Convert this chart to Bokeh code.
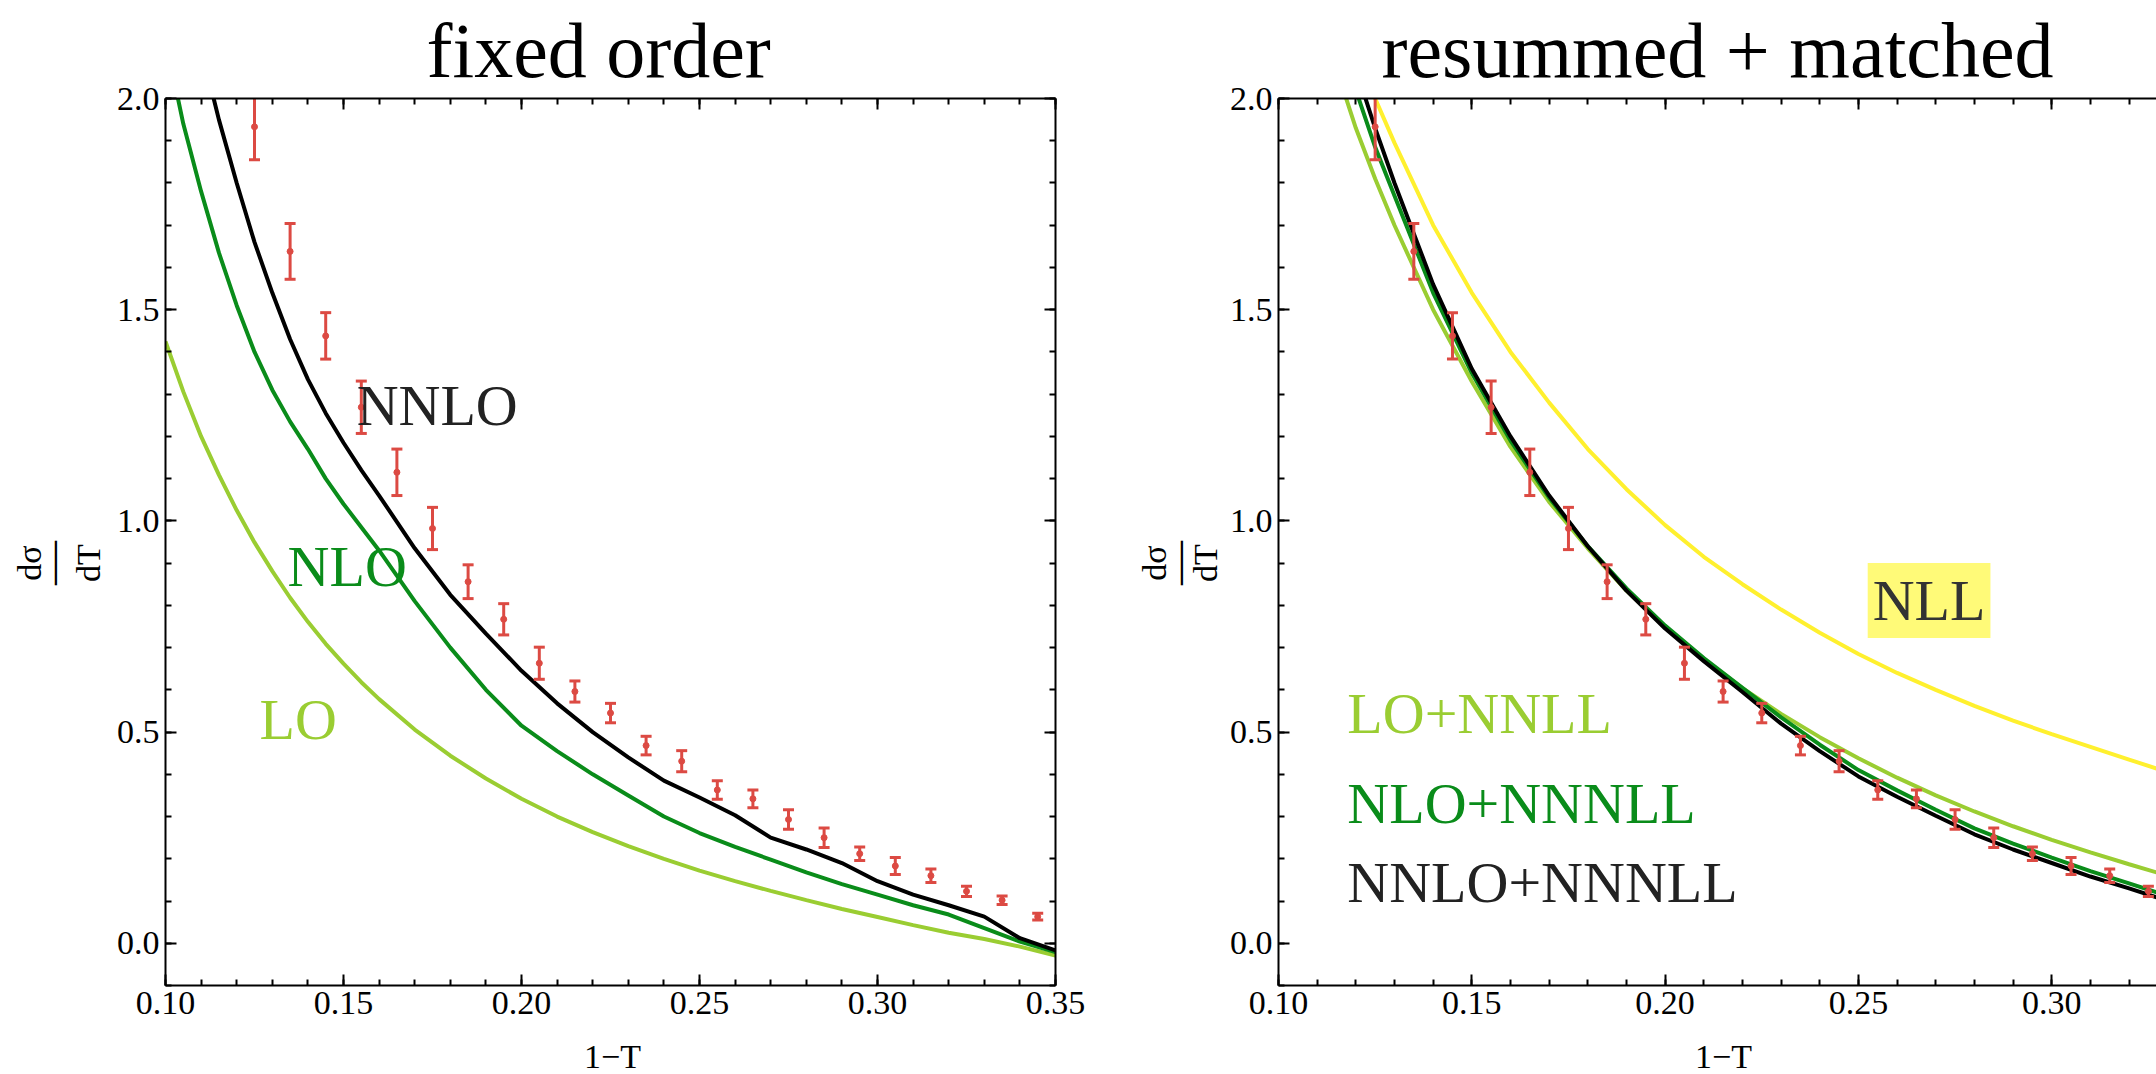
import math
from bokeh.plotting import figure
from bokeh.layouts import row, column
from bokeh.models import (Range1d, FixedTicker, LinearAxis, Label, NumeralTickFormatter,
                          CustomJSTickFormatter)
from bokeh.embed import file_html
from bokeh.resources import INLINE

# ---------------- data ----------------
x_fo = [0.100, 0.105, 0.110, 0.115, 0.120, 0.125, 0.130, 0.135, 0.140, 0.145, 0.150, 0.155,
        0.160, 0.170, 0.180, 0.190, 0.200, 0.210, 0.220, 0.230, 0.240, 0.250, 0.260, 0.270,
        0.280, 0.290, 0.300, 0.310, 0.320, 0.330, 0.340, 0.350]
lo = [1.425, 1.306, 1.200, 1.109, 1.025, 0.949, 0.881, 0.818, 0.761, 0.709, 0.662, 0.618,
      0.578, 0.506, 0.444, 0.390, 0.342, 0.300, 0.263, 0.230, 0.200, 0.172, 0.147, 0.124,
      0.102, 0.081, 0.062, 0.043, 0.025, 0.010, -0.008, -0.029]
nlo = [2.14, 1.94, 1.78, 1.635, 1.51, 1.40, 1.31, 1.235, 1.17, 1.10, 1.04, 0.985,
       0.93, 0.81, 0.70, 0.60, 0.515, 0.455, 0.40, 0.35, 0.30, 0.261, 0.228, 0.198,
       0.168, 0.140, 0.115, 0.090, 0.068, 0.036, 0.004, -0.021]
nnlo = [2.55, 2.32, 2.12, 1.95, 1.80, 1.66, 1.54, 1.43, 1.335, 1.255, 1.185, 1.12,
        1.06, 0.935, 0.825, 0.733, 0.645, 0.568, 0.50, 0.44, 0.385, 0.345, 0.303, 0.25,
        0.222, 0.19, 0.147, 0.115, 0.090, 0.063, 0.012, -0.017]

x_rs = [0.110, 0.115, 0.120, 0.125, 0.13, 0.14, 0.15, 0.16, 0.17, 0.18, 0.19, 0.20, 0.21,
        0.22, 0.23, 0.24, 0.25, 0.26, 0.27, 0.28, 0.29, 0.30, 0.31, 0.32, 0.33, 0.34, 0.35]
lo_nnll = [2.25, 2.07, 1.93, 1.81, 1.70, 1.50, 1.33, 1.175, 1.045, 0.935, 0.835, 0.748, 0.672,
           0.604, 0.543, 0.488, 0.438, 0.392, 0.350, 0.312, 0.277, 0.245, 0.215, 0.187, 0.160,
           0.135, 0.112]
nlo_nnnll = [2.30, 2.15, 2.02, 1.885, 1.77, 1.54, 1.35, 1.19, 1.055, 0.94, 0.84, 0.752, 0.675,
             0.605, 0.535, 0.47, 0.41, 0.362, 0.316, 0.272, 0.236, 0.203, 0.171, 0.142, 0.112,
             0.085, 0.06]
nnlo_nnnll = [2.35, 2.20, 2.07, 1.93, 1.80, 1.56, 1.36, 1.20, 1.06, 0.94, 0.835, 0.745, 0.668,
              0.595, 0.52, 0.455, 0.395, 0.347, 0.302, 0.258, 0.222, 0.19, 0.158, 0.13, 0.10,
              0.075, 0.05]
nll = [2.40, 2.25, 2.12, 2.00, 1.895, 1.70, 1.54, 1.40, 1.28, 1.17, 1.075, 0.99, 0.915,
       0.85, 0.79, 0.735, 0.685, 0.64, 0.60, 0.562, 0.527, 0.495, 0.465, 0.435, 0.405,
       0.38, 0.355]

x_data = [0.125, 0.135, 0.145, 0.155, 0.165, 0.175, 0.185, 0.195, 0.205, 0.215, 0.225, 0.235,
          0.245, 0.255, 0.265, 0.275, 0.285, 0.295, 0.305, 0.315, 0.325, 0.335, 0.345]
y_data = [1.933, 1.638, 1.438, 1.269, 1.115, 0.982, 0.856, 0.767, 0.663, 0.596, 0.545, 0.468,
          0.431, 0.363, 0.342, 0.293, 0.250, 0.212, 0.183, 0.160, 0.123, 0.102, 0.063]
err_data = [0.078, 0.066, 0.055, 0.062, 0.055, 0.050, 0.040, 0.037, 0.038, 0.025, 0.023, 0.022,
            0.025, 0.022, 0.021, 0.023, 0.023, 0.016, 0.020, 0.016, 0.012, 0.010, 0.008]

x_ticks = [0.10, 0.15, 0.20, 0.25, 0.30, 0.35]
x_tick_labels = ["0.10", "0.15", "0.20", "0.25", "0.30", "0.35"]
x_minor = [round(0.10 + 0.01 * i, 2) for i in range(26)]
y_ticks = [0.0, 0.5, 1.0, 1.5, 2.0]
y_tick_labels = ["0.0", "0.5", "1.0", "1.5", "2.0"]
y_minor = [round(-0.1 + 0.1 * i, 1) for i in range(22)]

titles = ["fixed order", "resummed + matched"]
x_label = "1\u2212T"

# ---------------- style ----------------
FONT = "Liberation Serif"
C_LO = "#9ACD32"
C_NLO = "#0A8C1A"
C_NNLO = "#000000"
C_NLL = "#FFF02E"
C_RED = "#DC4A43"
BASE = 0.052  # baseline correction for 58px labels (data units)
LW = 4


def style_axis(ax, ticks, minor, labels, show, fmt):
    ax.ticker = FixedTicker(ticks=ticks, minor_ticks=minor)
    ax.axis_line_color = "black"
    ax.axis_line_width = 2
    ax.major_tick_line_color = "black"
    ax.minor_tick_line_color = "black"
    ax.major_tick_line_width = 2
    ax.minor_tick_line_width = 2
    ax.major_tick_in = 11
    ax.major_tick_out = 0
    ax.minor_tick_in = 6
    ax.minor_tick_out = 0
    ax.major_label_text_font = FONT
    ax.major_label_text_color = "black"
    if show:
        ax.formatter = NumeralTickFormatter(format=fmt)
        ax.major_label_overrides = {t: l for t, l in zip(ticks, labels)}
        ax.major_label_text_font_size = "34px"
        ax.major_label_standoff = 6
    else:
        ax.formatter = CustomJSTickFormatter(code="return ''")
        ax.major_label_text_font_size = "0px"
        ax.major_label_standoff = 0


def make_fig(width, height, left, right, top, bottom, xend, with_right, title, t_align, t_off):
    p = figure(width=width, height=height, output_backend="svg", toolbar_location=None,
               x_range=Range1d(0.10, xend), y_range=Range1d(-0.1, 2.0),
               min_border_left=left, min_border_right=right,
               min_border_top=top, min_border_bottom=bottom, title=title)
    p.title.text_font = FONT
    p.title.text_font_size = "78px"
    p.title.text_font_style = "normal"
    p.title.text_color = "black"
    p.title.align = t_align
    p.title.offset = t_off
    p.title.vertical_align = "top"
    p.title.standoff = 6
    p.background_fill_color = "white"
    p.border_fill_color = "white"
    p.outline_line_color = None
    p.xgrid.visible = False
    p.ygrid.visible = False
    style_axis(p.xaxis[0], x_ticks, x_minor, x_tick_labels, True, "0.00")
    style_axis(p.yaxis[0], y_ticks, y_minor, y_tick_labels, True, "0.0")
    ax_top = LinearAxis()
    style_axis(ax_top, x_ticks, x_minor, x_tick_labels, False, "0.00")
    p.add_layout(ax_top, "above")
    if with_right:
        ax_r = LinearAxis()
        style_axis(ax_r, y_ticks, y_minor, y_tick_labels, False, "0.0")
        p.add_layout(ax_r, "right")
    return p


def aux(width, height):
    f = figure(width=width, height=height, output_backend="svg", toolbar_location=None,
               x_range=Range1d(0, width), y_range=Range1d(height, 0),
               x_axis_type=None, y_axis_type=None, min_border=0)
    f.outline_line_color = None
    f.background_fill_color = "white"
    f.border_fill_color = "white"
    return f


def label(p, x, y, text, size, color, align="left", angle=0.0, baseline="alphabetic", bg=None):
    kw = {}
    if bg is not None:
        kw = dict(background_fill_color=bg, padding=5)
    p.add_layout(Label(x=x, y=y, text=text, text_font=FONT, text_font_size=size,
                       text_color=color, text_align=align, text_baseline=baseline,
                       angle=angle, **kw))


def error_bars(p):
    lower = [y - e for y, e in zip(y_data, err_data)]
    upper = [y + e for y, e in zip(y_data, err_data)]
    p.segment(x0=x_data, y0=lower, x1=x_data, y1=upper, line_color=C_RED, line_width=3)
    p.scatter(x=x_data, y=lower, marker="dash", size=11, line_color=C_RED, line_width=3)
    p.scatter(x=x_data, y=upper, marker="dash", size=11, line_color=C_RED, line_width=3)
    p.scatter(x=x_data, y=y_data, marker="circle", size=6, line_color=C_RED, fill_color=C_RED)


def ylabel(f, xs, xb, xd, yc):
    label(f, xs, yc, "d\u03c3", "34px", "black", "center", math.pi / 2, "middle")
    label(f, xb, yc, "\u2014", "44px", "black", "center", math.pi / 2, "middle")
    label(f, xd, yc, "dT", "34px", "black", "center", math.pi / 2, "middle")


BOT = 43
MAIN_H = 1074 - BOT

# ---------------- x labels ----------------
bl = aux(1100, BOT)
label(bl, 612, 6, x_label, "34px", "black", "center", baseline="top")
br = aux(1056, BOT)
label(br, 623, 6, x_label, "34px", "black", "center", baseline="top")

# ---------------- y labels ----------------
yl = aux(110, MAIN_H)
ylabel(yl, 28.5, 51, 88, 540)
yr = aux(126, MAIN_H)
ylabel(yr, 53.5, 77, 105, 540)

# ---------------- left panel ----------------
pl = make_fig(990, MAIN_H, 55, 45, 95, 1074 - BOT - 985, 0.35, True, titles[0], "left", 261)
pl.line(x_fo, lo, line_color=C_LO, line_width=LW)
pl.line(x_fo, nlo, line_color=C_NLO, line_width=LW)
pl.line(x_fo, nnlo, line_color=C_NNLO, line_width=LW)
error_bars(pl)
label(pl, 0.1537, 1.22 + BASE, "NNLO", "58px", "#222222")
label(pl, 0.1343, 0.84 + BASE, "NLO", "58px", C_NLO)
label(pl, 0.1264, 0.478 + BASE, "LO", "58px", C_LO)

# ---------------- right panel ----------------
pr = make_fig(930, MAIN_H, 51, 0, 98, 1074 - BOT - 988, 0.3271, False, titles[1], "center", 0)
pr.line(x_rs, nll, line_color=C_NLL, line_width=LW)
pr.line(x_rs, lo_nnll, line_color=C_LO, line_width=LW)
pr.line(x_rs, nlo_nnnll, line_color=C_NLO, line_width=LW)
pr.line(x_rs, nnlo_nnnll, line_color=C_NNLO, line_width=LW)
error_bars(pr)
label(pr, 0.2524, 0.7596 + BASE, "NLL", "58px", "#333333", bg="#FFFA78")
label(pr, 0.1178, 0.492 + BASE, "LO+NNLL", "58px", C_LO)
label(pr, 0.1178, 0.280 + BASE, "NLO+NNNLL", "58px", C_NLO)
label(pr, 0.1178, 0.092 + BASE, "NNLO+NNNLL", "58px", "#222222")

layout = column(row(yl, pl, yr, pr), row(bl, br))
open("out.html", "w").write(file_html(layout, INLINE))
